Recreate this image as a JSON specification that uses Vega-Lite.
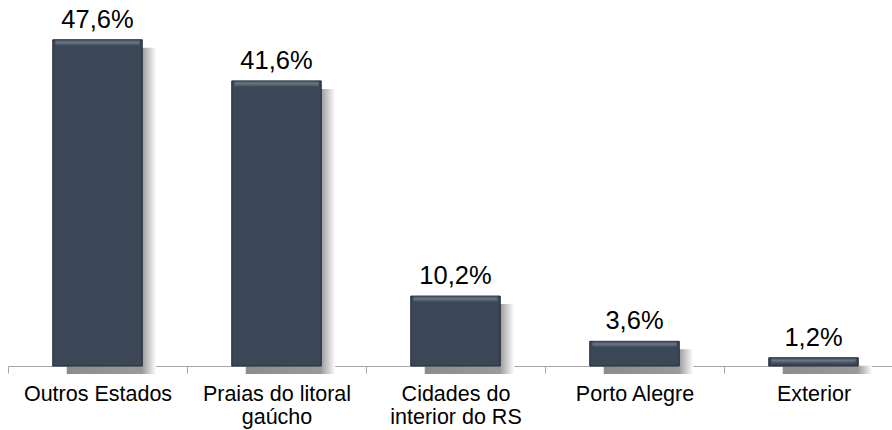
{
  "$schema": "https://vega.github.io/schema/vega-lite/v6.json",
  "width": 884,
  "height": 366,
  "autosize": "none",
  "padding": {"left": 8, "top": 0, "right": 0, "bottom": 64},
  "config": {"view": {"stroke": null}, "font": "Liberation Sans"},
  "data": {
    "values": [
      {"cat": "Outros Estados", "value": 47.6, "label": "47,6%"},
      {"cat": "Praias do litoral|gaúcho", "value": 41.6, "label": "41,6%"},
      {"cat": "Cidades do|interior do RS", "value": 10.2, "label": "10,2%"},
      {"cat": "Porto Alegre", "value": 3.6, "label": "3,6%"},
      {"cat": "Exterior", "value": 1.2, "label": "1,2%"}
    ]
  },
  "encoding": {
    "x": {
      "field": "cat",
      "type": "nominal",
      "sort": null,
      "scale": {"range": [0, 895], "paddingInner": 0, "paddingOuter": 0},
      "axis": {
        "title": null,
        "labelAngle": 0,
        "labelFontSize": 21.5,
        "labelColor": "#000000",
        "labelFont": "Liberation Sans",
        "labelExpr": "split(datum.label, '|')",
        "labelLineHeight": 23,
        "labelLimit": 300,
        "labelPadding": 10,
        "ticks": true,
        "tickBand": "extent",
        "tickSize": 7,
        "tickWidth": 1,
        "tickColor": "#a6a6a6",
        "domainColor": "#a6a6a6",
        "grid": false
      }
    },
    "y": {
      "field": "value",
      "type": "quantitative",
      "scale": {"domain": [0, 53.4]},
      "axis": null
    }
  },
  "layer": [
    {
      "mark": {
        "type": "bar",
        "width": {"band": 0.5},
        "xOffset": 14,
        "yOffset": 8,
        "y2Offset": -8,
        "fill": {
          "x1": 0, "y1": 0, "x2": 1, "y2": 0,
          "gradient": "linear",
          "stops": [
            {"offset": 0, "color": "#8c8c8c"},
            {"offset": 0.84, "color": "#9a9a9a"},
            {"offset": 1, "color": "#ffffff"}
          ]
        }
      }
    },
    {
      "mark": {"type": "bar", "width": {"band": 0.5}, "fill": "#3b4656", "stroke": "#232b36", "strokeWidth": 1}
    },
    {
      "mark": {
        "type": "bar",
        "y2Offset": 6,
        "width": {"band": 0.47},
        "fill": {
          "x1": 0, "y1": 0, "x2": 0, "y2": 1,
          "gradient": "linear",
          "stops": [
            {"offset": 0, "color": "#3b4656"},
            {"offset": 0.45, "color": "#6a7585"},
            {"offset": 1, "color": "#3b4656"}
          ]
        }
      },
      "encoding": {"y2": {"field": "value"}}
    },
    {
      "mark": {"type": "text", "baseline": "alphabetic", "dy": -12, "fontSize": 25.5, "font": "Liberation Sans", "color": "#000000"},
      "encoding": {"text": {"field": "label"}}
    }
  ]
}
